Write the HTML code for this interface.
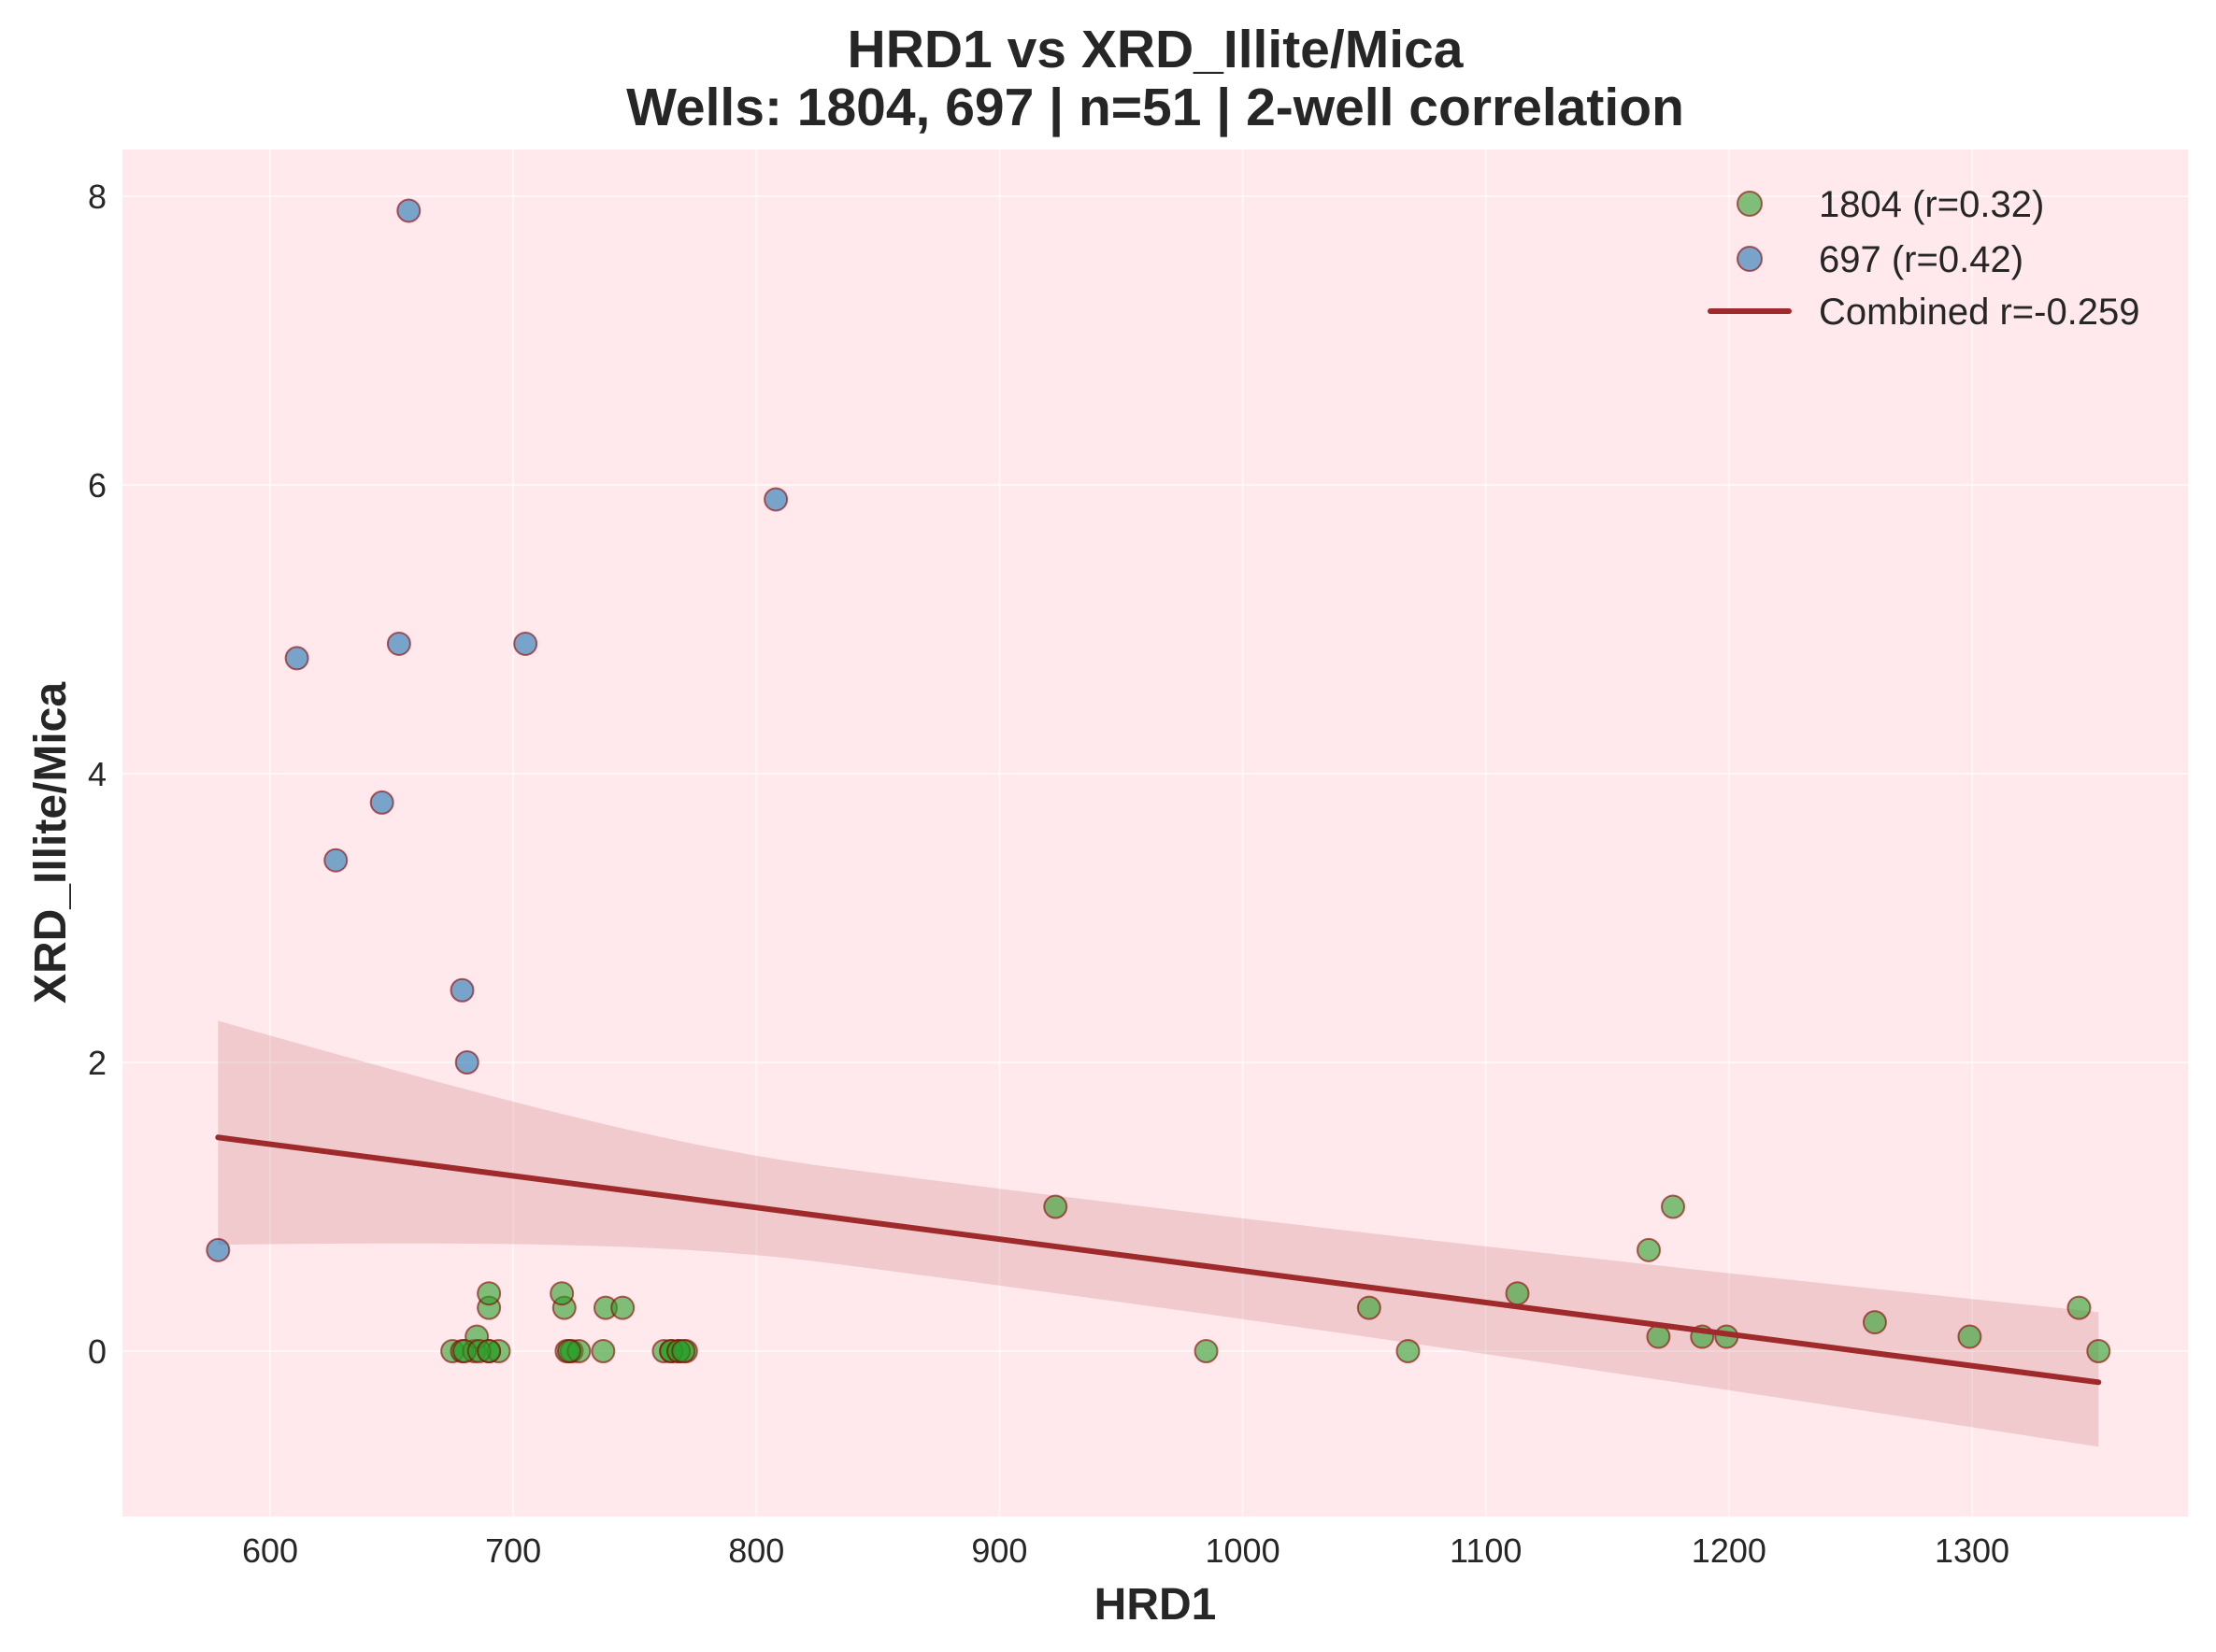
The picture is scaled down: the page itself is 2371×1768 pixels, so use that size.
<!DOCTYPE html>
<html><head><meta charset="utf-8">
<style>
html,body{margin:0;padding:0;background:#fff;}
svg{display:block;font-family:"Liberation Sans",Arial,sans-serif;}
</style></head>
<body>
<svg id="chart" width="2371" height="1768" viewBox="0 0 2371 1768">
<rect x="131" y="160" width="2210" height="1463" fill="#FFE9EC"/>
<g id="grid"></g>
<g id="band"></g>
<g id="pts"></g>
<g id="ticks"></g>
<text x="1236" y="72" text-anchor="middle" font-size="57" font-weight="bold" fill="#262626">HRD1 vs XRD_Illite/Mica</text>
<text x="1236" y="134" text-anchor="middle" font-size="57" font-weight="bold" fill="#262626">Wells: 1804, 697 | n=51 | 2-well correlation</text>
<text x="1236" y="1733" text-anchor="middle" font-size="48" font-weight="bold" fill="#262626">HRD1</text>
<text x="0" y="0" transform="translate(70,902) rotate(-90)" text-anchor="middle" font-size="48" font-weight="bold" fill="#262626">XRD_Illite/Mica</text>
<g>
<circle cx="1872" cy="218" r="13" fill="rgba(44,160,44,0.6)" stroke="rgba(139,0,0,0.6)" stroke-width="2"/>
<text x="1946" y="232" font-size="40" fill="#262626">1804 (r=0.32)</text>
<circle cx="1872" cy="277" r="13" fill="rgba(31,119,180,0.6)" stroke="rgba(139,0,0,0.6)" stroke-width="2"/>
<text x="1946" y="291" font-size="40" fill="#262626">697 (r=0.42)</text>
<line x1="1830" y1="333" x2="1914" y2="333" stroke="#9E2A2B" stroke-width="6" stroke-linecap="round"/>
<text x="1946" y="347" font-size="40" fill="#262626">Combined r=-0.259</text>
</g>
</svg>
<script>
const xTicks = [600,700,800,900,1000,1100,1200,1300];
const yTicks = [0,2,4,6,8];
const x1804 = [675,679,684,690,694,685,722,724,727,737,762,765,768,771,721,738,745,690,690,720,680,686,690,723,765,768,770,923,985,1052,1068,1113,1167,1177,1171,1189,1199,1260,1299,1344,1352];
const y1804 = [0,0,0,0,0,0.1,0,0,0,0,0,0,0,0,0.3,0.3,0.3,0.3,0.4,0.4,0,0,0,0,0,0,0,1.0,0,0.3,0,0.4,0.7,1.0,0.1,0.1,0.1,0.2,0.1,0.3,0];
const x697 = [578.6,611,627,646,653,657,679,681,705,808];
const y697 = [0.7,4.8,3.4,3.8,4.9,7.9,2.5,2.0,4.9,5.9];

const NS='http://www.w3.org/2000/svg';
const L=131,R=2341,T=160,B=1623;
const X=v=>289+(v-600)*(2110-289)/700;
const Y=v=>1446-(v)*(1446-210)/8;
function mk(tag,attrs,parent){const e=document.createElementNS(NS,tag);for(const k in attrs)e.setAttribute(k,attrs[k]);parent.appendChild(e);return e;}
const grid=document.getElementById('grid'),ticks=document.getElementById('ticks');
xTicks.forEach(t=>{
  const g=mk('line',{x1:X(t),x2:X(t),y1:T,y2:B,stroke:'#fff','stroke-opacity':0.6,'stroke-width':2},grid);
  
  
  const tx=mk('text',{x:X(t),y:1672,'text-anchor':'middle','font-size':36,fill:'#262626'},ticks);
  tx.textContent=t;
  
  
});
yTicks.forEach(t=>{
  const g=mk('line',{x1:L,x2:R,y1:Y(t),y2:Y(t),stroke:'#fff','stroke-opacity':0.6,'stroke-width':2},grid);
  
  
  const tx=mk('text',{x:114,y:Y(t)+13,'text-anchor':'end','font-size':36,fill:'#262626'},ticks);
  tx.textContent=t;
  
  
});
// regression
const xs=x1804.concat(x697), ys=y1804.concat(y697), n=xs.length;
const mx=xs.reduce((a,b)=>a+b)/n, my=ys.reduce((a,b)=>a+b)/n;
let sxx=0,sxy=0;xs.forEach((x,i)=>{sxx+=(x-mx)**2;sxy+=(x-mx)*(ys[i]-my);});
const slope=sxy/sxx, icp=my-slope*mx;
let sse=0;xs.forEach((x,i)=>{sse+=(ys[i]-icp-slope*x)**2;});
const s=Math.sqrt(sse/(n-2));
const xmin=Math.min(...xs), xmax=Math.max(...xs);
const up=[],lo=[];
for(let k=0;k<=60;k++){
  const x=xmin+(xmax-xmin)*k/60;const yh=icp+slope*x;
  const a = x<mx ? 3.3 : 0.17;
  const h=1.4*s*Math.sqrt(1/n+a*(x-mx)**2/sxx);
  up.push(X(x)+','+Y(yh+h));lo.unshift(X(x)+','+Y(yh-h*0.92));
}
const band=mk('polygon',{points:up.concat(lo).join(' '),fill:'rgba(190,90,100,0.22)'},document.getElementById('band'));


const pts=document.getElementById('pts');
function dot(x,y,fill,name){
  const c=mk('circle',{cx:X(x),cy:Y(y),r:12,fill:fill,stroke:'rgba(139,0,0,0.6)','stroke-width':2},pts);
  
  
}
x1804.forEach((x,i)=>dot(x,y1804[i],'rgba(44,160,44,0.6)','point-1804'));
x697.forEach((x,i)=>dot(x,y697[i],'rgba(31,119,180,0.6)','point-697'));
const ln=mk('line',{x1:X(xmin),y1:Y(icp+slope*xmin),x2:X(xmax),y2:Y(icp+slope*xmax),stroke:'#9E2A2B','stroke-width':6,'stroke-linecap':'round'},pts);


</script>
</body></html>
